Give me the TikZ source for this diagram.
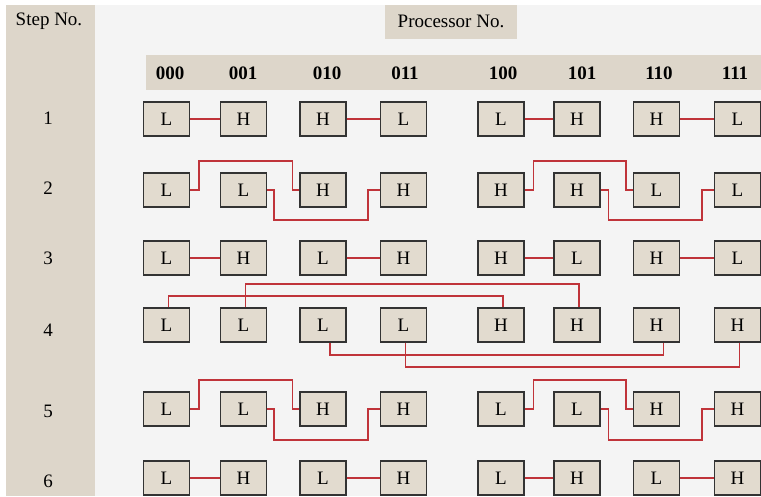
\documentclass[tikz,border=0pt]{standalone}
\usepackage{fontspec}
\setmainfont{Liberation Serif}
\definecolor{beige}{HTML}{DDD6CA}
\definecolor{boxfill}{HTML}{E2DBCF}
\definecolor{panel}{HTML}{F4F4F4}
\definecolor{wire}{HTML}{C0343A}
\definecolor{edge}{HTML}{333333}
\begin{document}
\begin{tikzpicture}[x=1pt,y=-1pt,
  pbox/.style={draw=edge,line width=1.3pt,fill=boxfill,minimum width=46pt,minimum height=34pt,inner sep=0pt,font=\fontsize{19}{21}\selectfont},
  conn/.style={draw=wire,line width=1.4pt},
  hdr/.style={font=\fontsize{19}{21}\selectfont\bfseries},
  steplbl/.style={font=\fontsize{19}{21}\selectfont},
  ttl/.style={font=\fontsize{19}{21}\selectfont}]
\useasboundingbox (0,0) rectangle (761,496);
\fill[white] (0,0) rectangle (761,496);
\fill[beige] (6,5) rectangle (95,496);
\fill[panel] (95,5) rectangle (761,496);
\fill[beige] (146,55) rectangle (761,90);
\fill[beige] (385,5) rectangle (517,39);
\node[ttl] (stepno) at (49,21) {Step No.};
\node[ttl] (procno) at (451,21) {Processor No.};
% column headers
\foreach \x/\t [count=\i from 0] in {170/000,243/001,327/010,405/011,503/100,582/101,659/110,735/111}
  \node[hdr] (h\i) at (\x,73) {\t};
% step numbers
\foreach \y/\t in {118/1,188/2,258/3,330/4,411/5,481/6}
  \node[steplbl] (s\t) at (48,\y) {\t};
% boxes
\foreach \r/\y/\la/\lb/\lc/\ld/\le/\lf/\lg/\lh in {
  1/119/L/H/H/L/L/H/H/L,
  2/190/L/L/H/H/H/H/L/L,
  3/258/L/H/L/H/H/L/H/L,
  4/325/L/L/L/L/H/H/H/H,
  5/409/L/L/H/H/L/L/H/H,
  6/478/L/H/L/H/L/H/L/H}{
  \node[pbox] (r\r c0) at (166.5,\y) {\la};
  \node[pbox] (r\r c1) at (243.5,\y) {\lb};
  \node[pbox] (r\r c2) at (323,\y) {\lc};
  \node[pbox] (r\r c3) at (403.5,\y) {\ld};
  \node[pbox] (r\r c4) at (501,\y) {\le};
  \node[pbox] (r\r c5) at (577,\y) {\lf};
  \node[pbox] (r\r c6) at (656.5,\y) {\lg};
  \node[pbox] (r\r c7) at (737.5,\y) {\lh};
}
% straight pairs rows 1,3,6
\foreach \r in {1,3,6}{
  \draw[conn] (r\r c0) -- (r\r c1);
  \draw[conn] (r\r c2) -- (r\r c3);
  \draw[conn] (r\r c4) -- (r\r c5);
  \draw[conn] (r\r c6) -- (r\r c7);
}
% rows 2 and 5
\coordinate (t2) at (0,161);
\coordinate (b2) at (0,220);
\coordinate (t5) at (0,380);
\coordinate (b5) at (0,440);
\foreach \r in {2,5}{
  \draw[conn] (r\r c0.east) -- ++(9,0) |- ([xshift=-7pt]r\r c2.west |- t\r) |- (r\r c2.west);
  \draw[conn] (r\r c1.east) -- ++(7,0) |- ([xshift=-12pt]r\r c3.west |- b\r) |- (r\r c3.west);
  \draw[conn] (r\r c4.east) -- ++(9,0) |- ([xshift=-7pt]r\r c6.west |- t\r) |- (r\r c6.west);
  \draw[conn] (r\r c5.east) -- ++(8,0) |- ([xshift=-12pt]r\r c7.west |- b\r) |- (r\r c7.west);
}
% row 4
\draw[conn] ([xshift=2pt]r4c0.north) -- ++(0,-11.5) -| ([xshift=2pt]r4c4.north);
\draw[conn] ([xshift=2pt]r4c1.north) -- ++(0,-23.5) -| ([xshift=2pt]r4c5.north);
\draw[conn] ([xshift=7pt]r4c2.south) -- ++(0,12.5) -| ([xshift=7pt]r4c6.south);
\draw[conn] ([xshift=2pt]r4c3.south) -- ++(0,24.5) -| ([xshift=2pt]r4c7.south);
\end{tikzpicture}
\end{document}
